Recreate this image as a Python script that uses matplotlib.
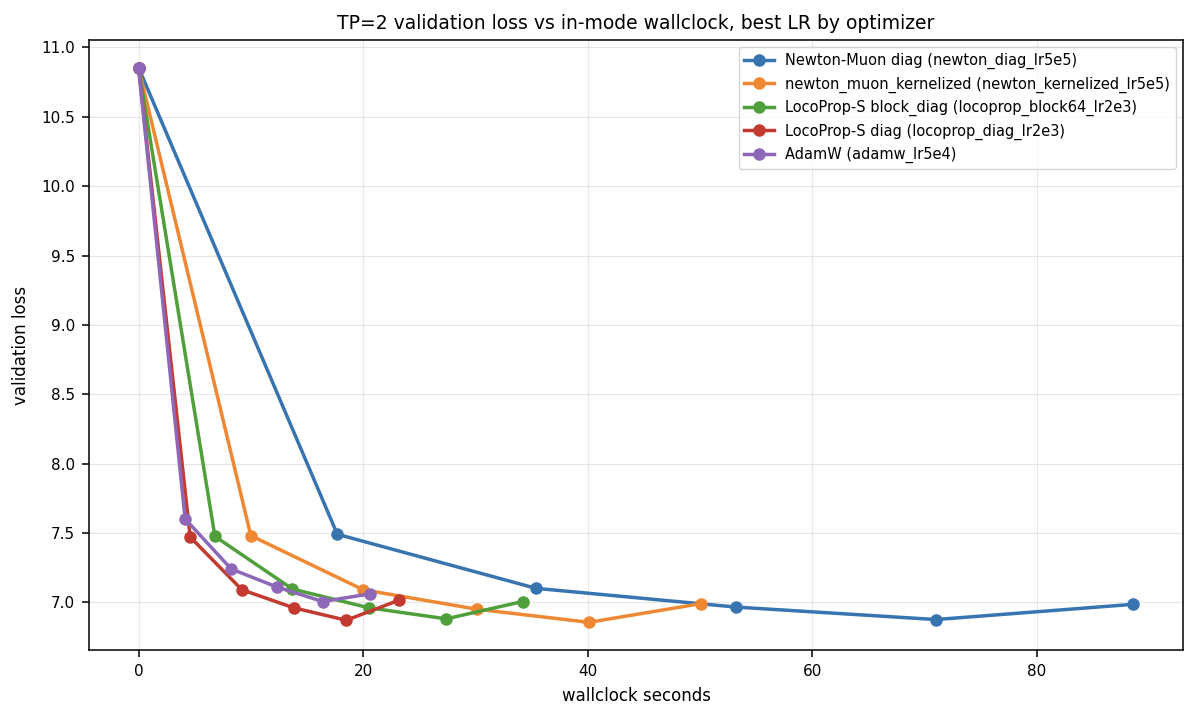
import matplotlib
matplotlib.use("Agg")
import matplotlib.pyplot as plt

labels = [
    "Newton-Muon diag (newton_diag_lr5e5)",
    "newton_muon_kernelized (newton_kernelized_lr5e5)",
    "LocoProp-S block_diag (locoprop_block64_lr2e3)",
    "LocoProp-S diag (locoprop_diag_lr2e3)",
    "AdamW (adamw_lr5e4)",
]
colors = ["#3774b0", "#ee8833", "#4f9f3b", "#c43a31", "#8e67b8"]

newton_diag_x = [0, 17.7, 35.4, 53.2, 71.0, 88.6]
newton_diag_y = [10.855, 7.49, 7.10, 6.965, 6.875, 6.985]
kernelized_x = [0, 10.0, 20.0, 30.1, 40.1, 50.1]
kernelized_y = [10.855, 7.48, 7.09, 6.95, 6.855, 6.99]
block_diag_x = [0, 6.8, 13.7, 20.5, 27.4, 34.2]
block_diag_y = [10.855, 7.475, 7.095, 6.96, 6.88, 7.005]
loco_diag_x = [0, 4.6, 9.2, 13.8, 18.5, 23.2]
loco_diag_y = [10.855, 7.47, 7.09, 6.96, 6.87, 7.015]
adamw_x = [0, 4.15, 8.25, 12.3, 16.4, 20.6]
adamw_y = [10.855, 7.60, 7.24, 7.11, 7.005, 7.06]

series = [
    (newton_diag_x, newton_diag_y),
    (kernelized_x, kernelized_y),
    (block_diag_x, block_diag_y),
    (loco_diag_x, loco_diag_y),
    (adamw_x, adamw_y),
]

fig, ax = plt.subplots(figsize=(12, 7.12), dpi=100)
for (xs, ys), lab, c in zip(series, labels, colors):
    ax.plot(xs, ys, marker="o", color=c, linewidth=2.5,
            markersize=8, label=lab)

ax.set_title("TP=2 validation loss vs in-mode wallclock, best LR by optimizer",
             fontsize=13.5, pad=8)
ax.set_xlabel("wallclock seconds", fontsize=12, labelpad=6)
ax.set_ylabel("validation loss", fontsize=12, labelpad=8)
ax.tick_params(labelsize=11, pad=5, length=5, width=1.1)
for s in ax.spines.values():
    s.set_linewidth(1.1)
ax.grid(True, alpha=0.3)
ax.legend(loc="upper right", fontsize=10.5)
fig.subplots_adjust(left=0.074, right=0.986, top=0.944, bottom=0.087)
fig.savefig("out.png", dpi=100)
